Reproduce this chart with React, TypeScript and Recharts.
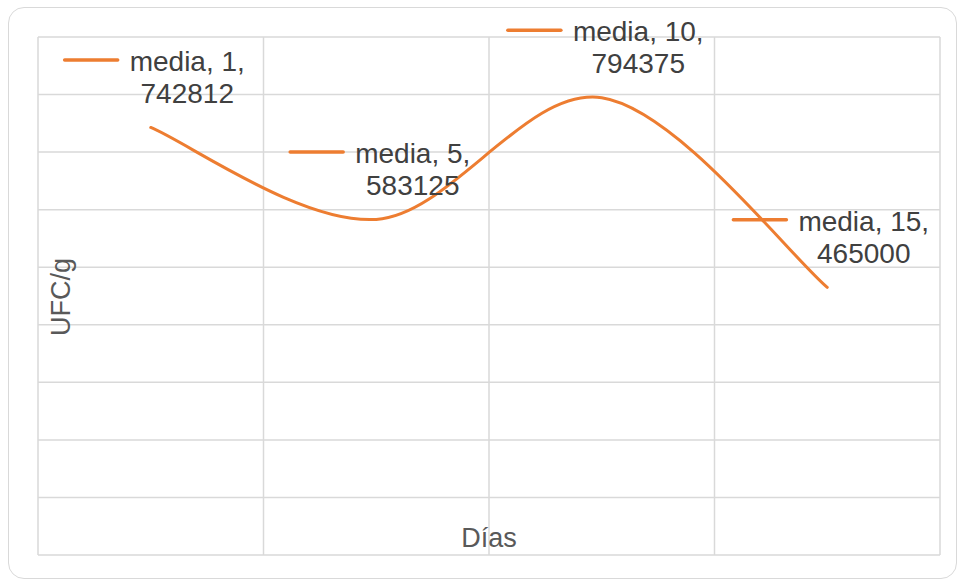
import React from "react";
import { LineChart, Line, XAxis, YAxis, CartesianGrid, LabelList } from "recharts";

// sampling days and the mean count (UFC/g) on each
const days = [1, 5, 10, 15];
const media = [742812, 583125, 794375, 465000];
const yTicks = [0, 100000, 200000, 300000, 400000, 500000, 600000, 700000, 800000, 900000];
const Y_MAX = 900000;

const ORANGE = "#ED7D31";
const GRID = "#D9D9D9";
const FONT = "'Liberation Sans', Arial, sans-serif";
const LABEL_SIZE = 28;

const chartData = days.map((d, i) => ({ pos: i + 1, day: d, media: media[i] }));
// category boundaries, so the vertical gridlines fall between points
const xBounds = [...days.map((_, i) => i + 0.5), days.length + 0.5];
const X_MIN = xBounds[0];
const X_MAX = xBounds[xBounds.length - 1];

let measureCtx: CanvasRenderingContext2D | null = null;
function textWidth(s: string) {
  if (!measureCtx) measureCtx = document.createElement("canvas").getContext("2d");
  if (!measureCtx) return s.length * LABEL_SIZE * 0.55;
  measureCtx.font = `${LABEL_SIZE}px ${FONT}`;
  return measureCtx.measureText(s).width;
}

// Catmull-Rom style smoothing, like the office "smoothed line"
function smoothCurve(context: any) {
  let pts: number[][] = [];
  return {
    areaStart() {},
    areaEnd() {},
    lineStart() {
      pts = [];
    },
    point(x: number, y: number) {
      pts.push([+x, +y]);
    },
    lineEnd() {
      if (!pts.length) return;
      context.moveTo(pts[0][0], pts[0][1]);
      for (let i = 0; i < pts.length - 1; i++) {
        const p0 = pts[Math.max(i - 1, 0)];
        const p1 = pts[i];
        const p2 = pts[i + 1];
        const p3 = pts[Math.min(i + 2, pts.length - 1)];
        context.bezierCurveTo(
          p1[0] + (p2[0] - p0[0]) / 6,
          p1[1] + (p2[1] - p0[1]) / 6,
          p2[0] - (p3[0] - p1[0]) / 6,
          p2[1] - (p3[1] - p1[1]) / 6,
          p2[0],
          p2[1]
        );
      }
    },
  };
}

// gridline positions from the plot offset and the axis domains
const horizontalLines = ({ yAxis, offset }: any) => {
  if (yAxis && typeof yAxis.scale === "function") return yTicks.map((t) => yAxis.scale(t));
  return yTicks.map((t) => offset.top + offset.height * (1 - t / Y_MAX));
};
const verticalLines = ({ xAxis, offset }: any) => {
  if (xAxis && typeof xAxis.scale === "function") return xBounds.map((t) => xAxis.scale(t));
  return xBounds.map((t) => offset.left + (offset.width * (t - X_MIN)) / (X_MAX - X_MIN));
};

// data label with a legend key: "media, <day>," / "<value>"
const DataLabel = (props: any) => {
  const { x, y, value, index } = props;
  const line1 = `media, ${days[index]},`;
  const line2 = `${value}`;
  const w = Math.max(textWidth(line1), textWidth(line2));
  const keyLen = 53;
  const gap = 12;
  const total = keyLen + gap + w;
  const left = x - total / 2 + 4;
  const cx = left + keyLen + gap + w / 2;
  return (
    <g>
      <line
        x1={left}
        x2={left + keyLen}
        y1={y - 67.5}
        y2={y - 67.5}
        stroke={ORANGE}
        strokeWidth={3.5}
        strokeLinecap="round"
      />
      <text x={cx} y={y - 56.5} textAnchor="middle" fontSize={LABEL_SIZE} fontFamily={FONT} fill="#404040">
        {line1}
      </text>
      <text x={cx} y={y - 24.5} textAnchor="middle" fontSize={LABEL_SIZE} fontFamily={FONT} fill="#404040">
        {line2}
      </text>
    </g>
  );
};

export default function App() {
  return (
    <div style={{ position: "absolute", left: 0, top: 0, width: 959, height: 582, background: "#fff" }}>
      <div
        style={{
          position: "absolute",
          left: 8,
          top: 7,
          width: 949,
          height: 572,
          border: `1.5px solid ${GRID}`,
          borderRadius: 16,
          boxSizing: "border-box",
        }}
      />
      <LineChart
        width={959}
        height={582}
        data={chartData}
        margin={{ top: 37, right: 19, bottom: 26, left: 37 }}
        style={{ position: "absolute", left: 0, top: 0 }}
      >
        <CartesianGrid
          stroke={GRID}
          strokeWidth={1.5}
          horizontalCoordinatesGenerator={horizontalLines}
          verticalCoordinatesGenerator={verticalLines}
        />
        <XAxis
          dataKey="pos"
          type="number"
          domain={[X_MIN, X_MAX]}
          ticks={xBounds}
          tick={false}
          tickLine={false}
          axisLine={false}
          height={1}
        />
        <YAxis
          domain={[0, Y_MAX]}
          ticks={yTicks}
          tick={false}
          tickLine={false}
          axisLine={false}
          width={1}
        />
        <Line
          dataKey="media"
          type={smoothCurve as any}
          stroke={ORANGE}
          strokeWidth={3}
          strokeLinecap="round"
          dot={false}
          activeDot={false}
          isAnimationActive={false}
        >
          <LabelList dataKey="media" content={<DataLabel />} />
        </Line>
      </LineChart>
      {/* axis titles */}
      <svg width={959} height={582} style={{ position: "absolute", left: 0, top: 0, pointerEvents: "none" }}>
        <text x={489} y={547} textAnchor="middle" fontSize={27} fontFamily={FONT} fill="#595959">
          Días
        </text>
        <text
          x={70}
          y={297}
          transform="rotate(-90 70 297)"
          textAnchor="middle"
          fontSize={27}
          fontFamily={FONT}
          fill="#595959"
        >
          UFC/g
        </text>
      </svg>
    </div>
  );
}
